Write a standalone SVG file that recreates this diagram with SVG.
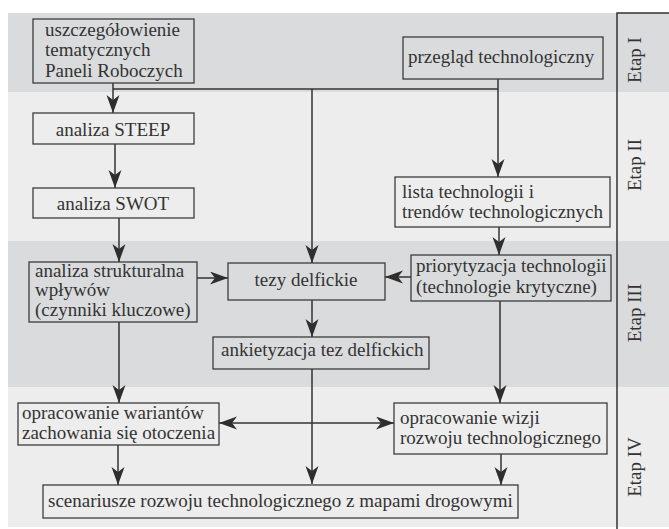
<svg xmlns="http://www.w3.org/2000/svg" width="669" height="529" viewBox="0 0 669 529">
<style>
.bd{fill:#d9dbdd}
.bl{fill:#ecedec}
.box{fill:none;stroke:#3c3c3c;stroke-width:1.3}
.t{font-family:'Liberation Serif',Tinos,'Times New Roman',serif;font-size:19px;fill:#333}
.c{stroke:#333;stroke-width:1.5;fill:none;marker-end:url(#ah)}
.n{stroke:#333;stroke-width:1.5;fill:none}
</style>
<defs>
<marker id="ah" markerUnits="userSpaceOnUse" markerWidth="19" markerHeight="14" refX="18" refY="6.5" orient="auto-start-reverse">
<path d="M0,0 L18,6.5 L0,13 L5,6.5 z" fill="#2e2e2e"/>
</marker>
</defs>
<rect width="669" height="529" fill="#fff"/>
<g id="bands">
<rect class="bd" x="8" y="13" width="661" height="79"/>
<rect class="bl" x="8" y="92" width="661" height="149"/>
<rect class="bd" x="8" y="241" width="661" height="146"/>
<rect class="bl" x="8" y="387" width="661" height="140"/>
<path class="n" d="M617,529 V13 H669" stroke-width="1.3"/>
</g>
<g id="etapy">
<text class="t" transform="translate(641,60) rotate(-90)" text-anchor="middle">Etap I</text>
<text class="t" transform="translate(641,165) rotate(-90)" text-anchor="middle">Etap II</text>
<text class="t" transform="translate(641,313) rotate(-90)" text-anchor="middle">Etap III</text>
<text class="t" transform="translate(641,467) rotate(-90)" text-anchor="middle">Etap IV</text>
</g>
<g id="connectors">
<path class="c" d="M113,83 V113"/>
<path class="n" d="M113,89 H498"/>
<path class="c" d="M498,79 V177"/>
<path class="c" d="M312,89 V263"/>
<path class="c" d="M115,144 V188"/>
<path class="c" d="M119,218 V262"/>
<path class="c" d="M499,227 V255"/>
<path class="c" d="M411,277 H385"/>
<path class="c" d="M197,278 H228"/>
<path class="c" d="M312,300 V337"/>
<path class="c" d="M119,322 V403"/>
<path class="c" d="M312,369 V484"/>
<path class="c" d="M500,301 V403"/>
<path class="c" d="M219,423 H394" marker-start="url(#ah)"/>
<path class="c" d="M118,445 V485"/>
<path class="c" d="M501,454 V485"/>
</g>
<g id="n1">
<rect class="box" x="33" y="19" width="161" height="64"/>
<text class="t" x="45" y="36">uszczegółowienie</text>
<text class="t" x="45" y="56">tematycznych</text>
<text class="t" x="45" y="77">Paneli Roboczych</text>
</g>
<g id="n2">
<rect class="box" x="403" y="37" width="200" height="42"/>
<text class="t" x="408" y="63">przegląd technologiczny</text>
</g>
<g id="n3">
<rect class="box" x="33" y="113" width="161" height="31"/>
<text class="t" x="113" y="136" text-anchor="middle">analiza STEEP</text>
</g>
<g id="n4">
<rect class="box" x="33" y="188" width="161" height="30"/>
<text class="t" x="113" y="210" text-anchor="middle">analiza SWOT</text>
</g>
<g id="n5">
<rect class="box" x="395" y="177" width="215" height="50"/>
<text class="t" x="402" y="198">lista technologii i</text>
<text class="t" x="402" y="218">trendów technologicznych</text>
</g>
<g id="n6">
<rect class="box" x="29" y="262" width="168" height="60"/>
<text class="t" x="35" y="277">analiza strukturalna</text>
<text class="t" x="35" y="296">wpływów</text>
<text class="t" x="35" y="316">(czynniki kluczowe)</text>
</g>
<g id="n7">
<rect class="box" x="228" y="263" width="157" height="37"/>
<text class="t" x="306" y="286" text-anchor="middle">tezy delfickie</text>
</g>
<g id="n8">
<rect class="box" x="411" y="255" width="200" height="46"/>
<text class="t" x="416" y="272">priorytyzacja technologii</text>
<text class="t" x="416" y="293">(technologie krytyczne)</text>
</g>
<g id="n9">
<rect class="box" x="213" y="337" width="216" height="32"/>
<text class="t" x="221" y="356">ankietyzacja tez delfickich</text>
</g>
<g id="n10">
<rect class="box" x="18" y="403" width="201" height="42"/>
<text class="t" x="22" y="419">opracowanie wariantów</text>
<text class="t" x="22" y="439">zachowania się otoczenia</text>
</g>
<g id="n11">
<rect class="box" x="394" y="403" width="213" height="51"/>
<text class="t" x="400" y="424">opracowanie wizji</text>
<text class="t" x="400" y="444">rozwoju technologicznego</text>
</g>
<g id="n12">
<rect class="box" x="43" y="485" width="475" height="33"/>
<text class="t" x="48" y="507">scenariusze rozwoju technologicznego z mapami drogowymi</text>
</g>
</svg>
